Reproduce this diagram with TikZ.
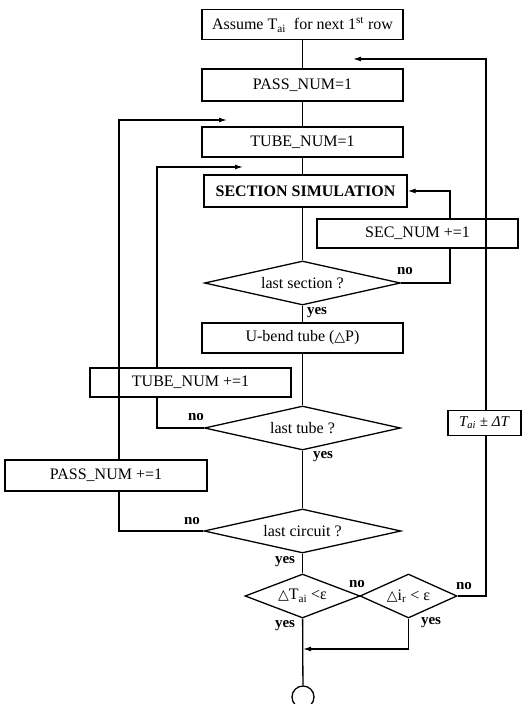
\documentclass[tikz,border=0pt]{standalone}
\usepackage{fontspec}
\setmainfont{Liberation Serif}
\newfontfamily\symf{DejaVu Sans}
\usetikzlibrary{arrows.meta,shapes.geometric,calc}
\newcommand{\tri}{{\symf\fontsize{14}{16}\selectfont △}}
\begin{document}
\begin{tikzpicture}[x=1pt,y=-1pt, line width=1.3pt,
  box/.style={draw, rectangle, inner sep=0pt, minimum width=201pt, minimum height=30pt, font=\fontsize{16}{18}\selectfont},
  dia/.style={draw, diamond, inner sep=0pt, font=\fontsize{16}{18}\selectfont},
  lab/.style={font=\bfseries\fontsize{15}{17}\selectfont, inner sep=0pt},
  arr/.style={-{Latex[length=8pt,width=5pt]}}]
\useasboundingbox (0,0) rectangle (522,704);
\node[box] (b1) at (302.5,24.5) {Assume T\textsubscript{ai}\ \ for next 1\textsuperscript{st} row};
\node[box, minimum height=32pt] (b2) at (302.5,85) {PASS\_NUM=1};
\node[box] (b3) at (302.5,142) {TUBE\_NUM=1};
\node[box, minimum width=203pt, minimum height=32pt, font=\bfseries\fontsize{16}{18}\selectfont] (b4) at (305.5,191) {SECTION SIMULATION};
\node[box, minimum height=29pt] (sec) at (417.5,233.5) {SEC\_NUM +=1};
\node[dia, minimum width=196pt, minimum height=44pt, aspect=4.45] (d1) at (302.5,283) {last section ?};
\node[box] (ub) at (302.5,338) {U-bend tube (\tri P)};
\node[box, minimum height=29pt] (tn) at (190.5,382.5) {TUBE\_NUM +=1};
\node[dia, minimum width=196pt, minimum height=44pt, aspect=4.45] (d2) at (302.5,428) {last tube ?};
\node[draw, inner sep=0pt, minimum width=73pt, minimum height=25pt, font=\fontsize{15}{17}\selectfont] (tb) at (484.5,423) {\textit{T\textsubscript{ai}} ± \textit{ΔT}};
\node[box, minimum width=202pt, minimum height=31pt] (pn) at (106,475.5) {PASS\_NUM +=1};
\node[dia, minimum width=197pt, minimum height=44pt, aspect=4.45] (d3) at (302.5,531) {last circuit ?};
\node[dia, minimum width=115pt, minimum height=44pt, aspect=2.6] (d4) at (302.5,596) {\tri T\textsubscript{ai} <ε};
\node[dia, minimum width=97pt, minimum height=44pt, aspect=2.2] (d5) at (408.5,596) {\tri i\textsubscript{r} < ε};
\node[draw, circle, minimum size=22pt, inner sep=0pt] (end) at (303,697) {};
\coordinate (rx) at (486,0);
\coordinate (sx) at (450,0);
\coordinate (ix) at (157,0);
\coordinate (ox) at (119,0);
\coordinate (t1) at (353,59);
\coordinate (t2) at (227,120);
\coordinate (t3) at (243,167);
\coordinate (jn) at (303,649);
\draw (b1) -- (b2);
\draw (b2) -- (b3);
\draw (b3.south) -- (b3.south |- b4.north);
\draw (b4.south -| d1.north) -- (d1.north);
\draw (d1) -- (ub);
\draw (ub) -- (d2);
\draw (d2) -- (d3);
\draw (d3) -- (d4);
\draw (d4) -- (end);
\draw[arr] (d5.south) |- (jn);
\draw (d1.east) -| (sx |- sec.south);
\draw[arr] (sx |- sec.north) |- (b4.east);
\draw (d5.east) -| (rx |- tb.south);
\draw[arr] (rx |- tb.north) |- (t1);
\draw (d2.west) -| (ix |- tn.south);
\draw[arr] (ix |- tn.north) |- (t3);
\draw (d3.west) -| (ox |- pn.south);
\draw[arr] (ox |- pn.north) |- (t2);
\node[lab] (l1) at (405,271) {no};
\node[lab] (l2) at (317,313) {yes};
\node[lab] (l3) at (196,417) {no};
\node[lab] (l4) at (323,457) {yes};
\node[lab] (l5) at (192,521) {no};
\node[lab] (l6) at (285,562) {yes};
\node[lab] (l7) at (357,584) {no};
\node[lab] (l8) at (464,586) {no};
\node[lab] (l9) at (285,626) {yes};
\node[lab] (l10) at (431,623) {yes};
\end{tikzpicture}
\end{document}
